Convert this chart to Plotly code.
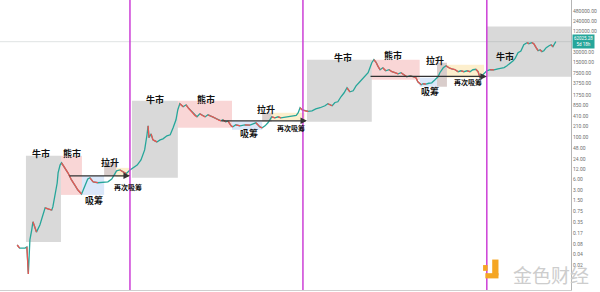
import numpy as np
import plotly.graph_objects as go

# ---------------- data ----------------
dates = [
    "2010-07-22", "2010-08-10", "2010-09-20", "2010-10-04", "2010-10-15", "2010-10-27", "2010-11-10",
    "2010-11-19", "2010-12-05", "2010-12-16", "2011-01-11", "2011-02-02", "2011-02-20", "2011-03-14",
    "2011-04-12", "2011-04-20", "2011-05-05", "2011-05-23", "2011-05-30", "2011-06-14", "2011-06-25",
    "2011-07-20", "2011-08-13", "2011-09-09", "2011-10-05", "2011-10-28", "2011-11-25", "2011-12-20",
    "2012-01-11", "2012-01-28", "2012-02-21", "2012-03-28", "2012-05-08", "2012-06-13", "2012-07-12",
    "2012-08-07", "2012-08-18", "2012-09-13", "2012-10-05", "2012-10-30", "2012-11-28",
    "2012-12-20", "2013-01-22", "2013-02-20", "2013-03-20", "2013-04-07", "2013-04-15", "2013-04-22",
    "2013-05-08", "2013-05-22", "2013-06-21", "2013-07-16", "2013-08-07", "2013-09-06", "2013-10-01",
    "2013-10-23", "2013-11-14", "2013-11-28", "2013-12-13", "2014-01-08", "2014-01-30", "2014-02-14",
    "2014-03-14", "2014-04-09", "2014-04-23", "2014-05-15", "2014-06-06", "2014-06-25", "2014-07-16",
    "2014-07-31", "2014-08-22", "2014-09-17", "2014-10-01", "2014-10-23", "2014-11-06", "2014-11-28",
    "2014-12-16", "2015-01-08", "2015-01-22", "2015-02-13", "2015-03-18", "2015-04-23", "2015-06-01",
    "2015-06-25", "2015-07-16", "2015-07-31", "2015-08-15", "2015-09-02", "2015-09-24", "2015-10-16",
    "2015-10-30", "2015-11-14", "2015-12-09", "2016-01-01", "2016-01-23", "2016-02-16", "2016-03-10",
    "2016-04-01", "2016-04-23", "2016-05-19", "2016-06-03", "2016-06-17", "2016-07-01", "2016-07-23",
    "2016-08-18", "2016-09-16", "2016-10-15", "2016-11-17", "2016-12-24", "2017-01-15", "2017-02-17",
    "2017-03-10", "2017-04-01", "2017-04-25", "2017-05-19", "2017-06-10", "2017-07-02", "2017-07-27",
    "2017-08-18", "2017-09-09", "2017-10-01", "2017-10-27", "2017-11-18", "2017-12-02", "2017-12-16",
    "2018-01-01", "2018-01-19", "2018-02-03", "2018-02-17", "2018-03-10", "2018-04-01", "2018-04-27",
    "2018-05-19", "2018-06-10", "2018-07-05", "2018-07-27", "2018-08-18", "2018-09-09", "2018-10-05",
    "2018-10-27", "2018-11-18", "2018-12-02", "2018-12-28", "2019-01-11", "2019-02-02", "2019-02-24",
    "2019-03-18", "2019-04-12", "2019-05-05", "2019-05-19", "2019-06-14", "2019-07-05", "2019-07-27",
    "2019-08-18", "2019-09-13", "2019-10-05", "2019-10-27", "2019-11-18", "2019-12-13", "2020-01-04",
    "2020-01-26", "2020-02-17", "2020-03-06", "2020-03-20", "2020-04-04", "2020-04-27", "2020-05-11",
    "2020-06-06", "2020-07-05", "2020-08-04", "2020-08-29", "2020-09-20", "2020-10-12", "2020-11-03",
    "2020-11-28", "2020-12-13", "2021-01-04", "2021-01-26", "2021-02-17", "2021-03-14", "2021-03-28",
    "2021-04-19", "2021-05-04", "2021-05-22", "2021-06-06", "2021-06-21", "2021-07-05", "2021-07-20",
    "2021-08-07", "2021-08-29", "2021-09-13", "2021-09-27", "2021-10-12", "2021-10-19",
]
closes = [
    0.076, 0.062, 0.062, 0.067, 0.011, 0.107, 0.21,
    0.36, 0.24, 0.18, 0.29, 0.57, 0.91, 0.85,
    0.79, 0.97, 1.9, 4.8, 9.5, 16, 18.6,
    13.2, 9.5, 5.9, 4.2, 3.0, 2.3, 3.7,
    6.3, 6.8, 5.2, 4.9, 5.1, 5.2, 6.3,
    9.5, 10.8, 11.5, 10.2, 9.0, 11.5,
    13.2, 16, 22.6, 44, 121, 220, 99,
    129, 86, 75, 86, 92, 113, 121,
    193, 330, 646, 966, 790, 900, 740,
    562, 432, 403, 494, 432, 403, 460,
    432, 403, 354, 330, 308, 330, 289,
    300, 220, 206, 236, 220, 236, 230,
    252, 270, 236, 206, 193, 220, 270,
    330, 403, 377, 403, 377, 390, 403,
    415, 432, 445, 528, 738, 646, 603,
    580, 603, 688, 738, 842, 966, 842,
    1050, 1100, 1540, 2010, 2810, 2140, 2300,
    3200, 3920, 4790, 5870, 7680, 10700, 15000,
    18400, 15000, 11500, 9380, 10700, 8760, 9380,
    8220, 7680, 7170, 7680, 6720, 5870, 6280,
    5870, 5500, 4200, 3440, 3680, 3600, 3800,
    3920, 4790, 5870, 7680, 10700, 12300, 10700,
    10000, 9380, 8220, 8760, 8220, 8760, 8220,
    9380, 9700, 8220, 5500, 6280, 7680, 8760,
    9380, 9300, 10000, 10700, 10800, 12300, 14000,
    17100, 20000, 29200, 33000, 50100, 57300, 53600,
    57300, 53600, 41000, 33500, 35800, 31400, 33500,
    41000, 46800, 50100, 44000, 57300, 61200,
]

# phase boxes: (start, end, low, high, kind)
box_start = ["2010-09-27", "2011-06-21", "2011-11-28", "2012-05-15", "2012-08-15",
             "2012-12-13", "2013-11-28", "2015-01-15", "2015-09-02", "2015-11-14",
             "2016-08-09", "2017-12-16", "2018-12-16", "2019-04-27", "2019-07-12",
             "2020-05-11"]
box_end = ["2011-06-21", "2011-11-28", "2012-05-15", "2012-08-15", "2012-11-28",
           "2013-11-28", "2015-01-15", "2015-09-02", "2015-11-14", "2016-07-23",
           "2017-12-16", "2018-12-16", "2019-04-27", "2019-07-12", "2020-04-20",
           "2022-02-12"]
box_low = [0.093, 2.17, 2.17, 7.76, 7.2,
           6.8, 193, 169, 289, 308,
           289, 4790, 3010, 3010, 5500,
           5870]
box_high = [29.6, 29.6, 7.76, 18.6, 13.2,
            1180, 1180, 308, 528, 528,
            18400, 18400, 5500, 15000, 13100,
            168000]
box_kind = ["bull", "bear", "acc", "pump", "reacc",
            "bull", "bear", "acc", "pump", "reacc",
            "bull", "bear", "acc", "pump", "reacc",
            "bull"]

# phase labels
label_text = ["牛市", "熊市", "吸筹", "拉升", "再次吸筹",
              "牛市", "熊市", "吸筹", "拉升", "再次吸筹",
              "牛市", "熊市", "吸筹", "拉升", "再次吸筹",
              "牛市"]
label_date = ["2011-01-18", "2011-09-12", "2012-02-28", "2012-06-28", "2012-11-14",
              "2013-06-05", "2014-07-01", "2015-05-22", "2015-10-01", "2016-04-08",
              "2017-05-12", "2018-05-26", "2019-03-05", "2019-04-14", "2019-12-20",
              "2020-09-28"]
label_price = [33.8, 33.8, 1.45, 18.6, 3.7,
               1260, 1260, 129, 646, 193,
               21000, 24000, 2140, 17100, 4200,
               22400]

# support arrows: (start, end, price)
arrow_start = ["2011-08-13", "2014-10-15", "2017-11-25"]
arrow_end = ["2012-11-28", "2016-08-09", "2020-05-11"]
arrow_price = [7.76, 308, 6000]

halvings = ["2012-11-28", "2016-07-09", "2020-05-11"]

tick_vals = [0.02, 0.04, 0.08, 0.17, 0.35, 0.75, 1.5, 3, 6, 12, 24, 48, 100, 210, 410, 850,
             1750, 3750, 7500, 15000, 30000, 120000, 240000, 480000, 960000]
tick_text = ["0.02", "0.04", "0.08", "0.17", "0.35", "0.75", "1.50", "3.00", "6.00", "12.00",
             "24.00", "48.00", "100.00", "210.00", "410.00", "850.00", "1750.00", "3750.00",
             "7500.00", "15000.00", "30000.00", "120000.00", "240000.00", "480000.00", "960000.00"]

price_tag = "62025.28<br>5d 18h"

# ---------------- styles ----------------
TEAL = "#26a69a"
RED = "#ef5350"
box_fill = {
    "bull": "rgba(150,150,150,0.36)",
    "bear": "rgba(235,120,120,0.30)",
    "acc": "rgba(140,180,235,0.32)",
    "pump": "rgba(160,130,125,0.40)",
    "reacc": "rgba(250,215,130,0.40)",
}
CJK = "Noto Sans CJK SC"

fig = go.Figure()

# main price path
fig.add_trace(go.Scatter(x=dates, y=closes, mode="lines",
                         line=dict(color=TEAL, width=1.3), hoverinfo="skip"))
# red segments where price falls
rx, ry = [], []
for i in range(1, len(closes)):
    if closes[i] < closes[i - 1]:
        rx += [dates[i - 1], dates[i], None]
        ry += [closes[i - 1], closes[i], None]
fig.add_trace(go.Scatter(x=rx, y=ry, mode="lines",
                         line=dict(color=RED, width=1.3), hoverinfo="skip"))

shapes = []
for s, e, lo, hi, k in zip(box_start, box_end, box_low, box_high, box_kind):
    shapes.append(dict(type="rect", xref="x", yref="y", x0=s, x1=e, y0=lo, y1=hi,
                       fillcolor=box_fill[k], line=dict(width=0), layer="below"))
# current price line
shapes.append(dict(type="line", xref="paper", yref="y", x0=0, x1=1,
                   y0=closes[-1], y1=closes[-1], line=dict(color="#dfe3e3", width=1),
                   layer="below"))
# halving lines
for h in halvings:
    shapes.append(dict(type="line", xref="x", yref="paper", x0=h, x1=h, y0=0, y1=1,
                       line=dict(color="#cc3fd6", width=1.5)))
# watermark logo (decorative)
LOGO = "#f5a623"
shapes += [
    dict(type="rect", xref="paper", yref="paper", x0=0.862, x1=0.873, y0=0.050, y1=0.105,
         fillcolor=LOGO, line=dict(width=0)),
    dict(type="rect", xref="paper", yref="paper", x0=0.850, x1=0.873, y0=0.040, y1=0.058,
         fillcolor=LOGO, line=dict(width=0)),
    dict(type="rect", xref="paper", yref="paper", x0=0.846, x1=0.854, y0=0.066, y1=0.086,
         fillcolor=LOGO, line=dict(width=0)),
]

annotations = []
for t, d, p in zip(label_text, label_date, label_price):
    annotations.append(dict(x=d, y=np.log10(p), xref="x", yref="y", text="<b>" + t + "</b>",
                            showarrow=False, xanchor="center", yanchor="middle",
                            font=dict(family=CJK, size=7 if len(t) > 2 else 9, color="#111")))
for s, e, p in zip(arrow_start, arrow_end, arrow_price):
    annotations.append(dict(x=e, y=np.log10(p), ax=s, ay=np.log10(p), xref="x", yref="y",
                            axref="x", ayref="y", text="", showarrow=True, arrowhead=2,
                            arrowsize=1, arrowwidth=1.3, arrowcolor="#333"))
annotations.append(dict(x=1, y=np.log10(closes[-1]), xref="paper", yref="y", xanchor="left",
                        yanchor="middle", xshift=1, text=price_tag, showarrow=False,
                        align="center", bgcolor=TEAL, borderpad=1,
                        font=dict(family="Roboto", size=4.5, color="white")))
annotations.append(dict(x=0.965, y=0.052, xref="paper", yref="paper", text="金色财经",
                        xanchor="center", yanchor="middle", showarrow=False,
                        font=dict(family=CJK, size=19, color="#cdcdcd")))

fig.update_layout(
    width=600, height=292, margin=dict(l=0, r=29, t=0, b=2),
    paper_bgcolor="white", plot_bgcolor="white", showlegend=False,
    shapes=shapes, annotations=annotations,
    xaxis=dict(type="date", range=["2010-03-13", "2022-02-12"], showticklabels=False,
               showgrid=False, zeroline=False, showline=True, linecolor="#cfcfcf", ticks=""),
    yaxis=dict(type="log", range=[-2.426, 5.998], side="right", tickvals=tick_vals,
               ticktext=tick_text, tickfont=dict(family="Roboto", size=5, color="#707070"),
               showgrid=False, zeroline=False, showline=True, linecolor="#b5b5b5", ticks=""),
)

fig.write_html("out.html")
